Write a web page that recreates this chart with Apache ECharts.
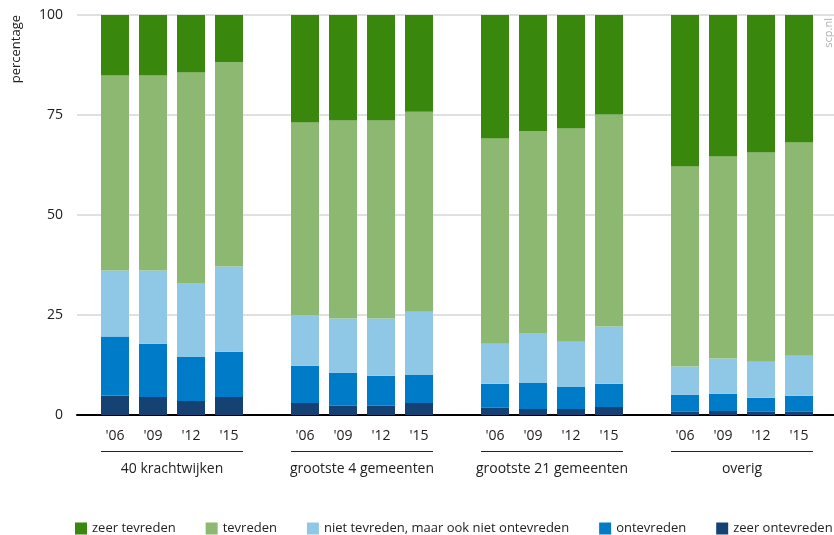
<!DOCTYPE html>
<html>
<head>
<meta charset="utf-8">
<script src="https://cdn.jsdelivr.net/npm/echarts@6/dist/echarts.min.js"></script>
<style>
html,body{margin:0;padding:0;background:#fff;}
#chart{width:834px;height:535px;}
</style>
</head>
<body>
<div id="chart"></div>
<script>
const groups = ['40 krachtwijken', 'grootste 4 gemeenten', 'grootste 21 gemeenten', 'overig'];
const years = ["'06", "'09", "'12", "'15"];
const yTicks = [0, 25, 50, 75, 100];
const seriesNames = ['zeer tevreden', 'tevreden', 'niet tevreden, maar ook niet ontevreden', 'ontevreden', 'zeer ontevreden'];
// values per bar: group 1 ('06,'09,'12,'15), group 2, group 3, group 4
const zeerTevreden   = [15.3, 15.3, 14.4, 11.9, 27.0, 26.5, 26.5, 24.3, 31.0, 29.0, 28.5, 25.0, 38.0, 35.5, 34.5, 32.0];
const tevreden       = [48.8, 48.8, 52.6, 51.1, 48.2, 49.5, 49.5, 50.0, 51.3, 50.5, 53.3, 53.0, 50.0, 50.5, 52.3, 53.3];
const nietNiet       = [16.5, 18.3, 18.5, 21.3, 12.6, 13.5, 14.3, 15.8, 10.0, 12.5, 11.3, 14.3, 7.0, 8.8, 9.0, 10.0];
const ontevreden     = [14.8, 13.3, 11.0, 11.3, 9.3, 8.3, 7.5, 7.0, 6.0, 6.5, 5.5, 5.8, 4.3, 4.3, 3.5, 4.0];
const zeerOntevreden = [4.8, 4.5, 3.5, 4.5, 3.0, 2.3, 2.3, 3.0, 1.8, 1.5, 1.5, 2.0, 0.8, 1.0, 0.8, 0.8];
const colors = {
  'zeer tevreden': '#39870c',
  'tevreden': '#8db872',
  'niet tevreden, maar ook niet ontevreden': '#8fc8e7',
  'ontevreden': '#007bc7',
  'zeer ontevreden': '#154273'
};

// category slots: a blank slot between groups
const cats = [''];
groups.forEach(() => { years.forEach(y => cats.push(y)); cats.push(''); });
function expand(arr) {
  const out = ['-'];
  for (let g = 0; g < groups.length; g++) {
    for (let i = 0; i < years.length; i++) out.push(arr[g * years.length + i]);
    out.push('-');
  }
  return out;
}
const stackOrder = [
  ['zeer ontevreden', zeerOntevreden],
  ['ontevreden', ontevreden],
  ['niet tevreden, maar ook niet ontevreden', nietNiet],
  ['tevreden', tevreden],
  ['zeer tevreden', zeerTevreden]
];

const chart = echarts.init(document.getElementById('chart'), null, {renderer: 'canvas'});
chart.setOption({
  animation: false,
  textStyle: {fontFamily: 'Open Sans', color: '#222'},
  grid: {left: 77, width: 760, top: 15, height: 400, containLabel: false, outerBoundsMode: 'none'},
  legend: {
    data: seriesNames,
    left: 75, top: 522, width: 2000, padding: 0,
    itemWidth: 12, itemHeight: 12, itemGap: 30,
    icon: 'rect',
    textStyle: {fontSize: 13, color: '#222', fontFamily: 'Open Sans'},
    selectedMode: false
  },
  xAxis: [{
    type: 'category',
    data: cats,
    boundaryGap: false,
    axisLine: {show: true, lineStyle: {color: '#000', width: 2}},
    axisTick: {show: false},
    splitLine: {show: false},
    axisLabel: {interval: 0, margin: 14, fontSize: 14, color: '#222'}
  }, {
    type: 'category',
    data: groups,
    position: 'bottom',
    boundaryGap: true,
    axisLine: {show: false},
    axisTick: {show: false},
    splitLine: {show: false},
    axisLabel: {
      interval: 0, margin: 36, color: '#222',
      formatter: v => '{line|}\n{name|' + v + '}',
      rich: {
        line: {width: 142, height: 1, backgroundColor: '#222', align: 'center'},
        name: {fontSize: 14, lineHeight: 35, color: '#222', align: 'center'}
      }
    }
  }],
  yAxis: {
    type: 'value',
    min: yTicks[0], max: yTicks[yTicks.length - 1], interval: yTicks[1] - yTicks[0],
    axisLine: {show: false},
    axisTick: {show: false},
    axisLabel: {margin: 14, fontSize: 14, color: '#222'},
    splitLine: {lineStyle: {color: '#d6d6d6', width: 1.5}}
  },
  graphic: [{
    type: 'text', x: 16, y: 15, rotation: Math.PI / 2,
    style: {text: 'percentage', fontSize: 13, fill: '#222', fontFamily: 'Open Sans', align: 'right', verticalAlign: 'middle'}
  }, {
    type: 'text', x: 829, y: 18, rotation: Math.PI / 2,
    style: {text: 'scp.nl', fontSize: 11, fill: '#b0b0b0', fontFamily: 'Open Sans', align: 'right', verticalAlign: 'middle'}
  }],
  series: stackOrder.map(([name, arr]) => ({
    name: name,
    type: 'bar',
    stack: 'total',
    barWidth: 28,
    xAxisIndex: 0,
    itemStyle: {color: colors[name]},
    data: expand(arr)
  }))
});
</script>
</body>
</html>
